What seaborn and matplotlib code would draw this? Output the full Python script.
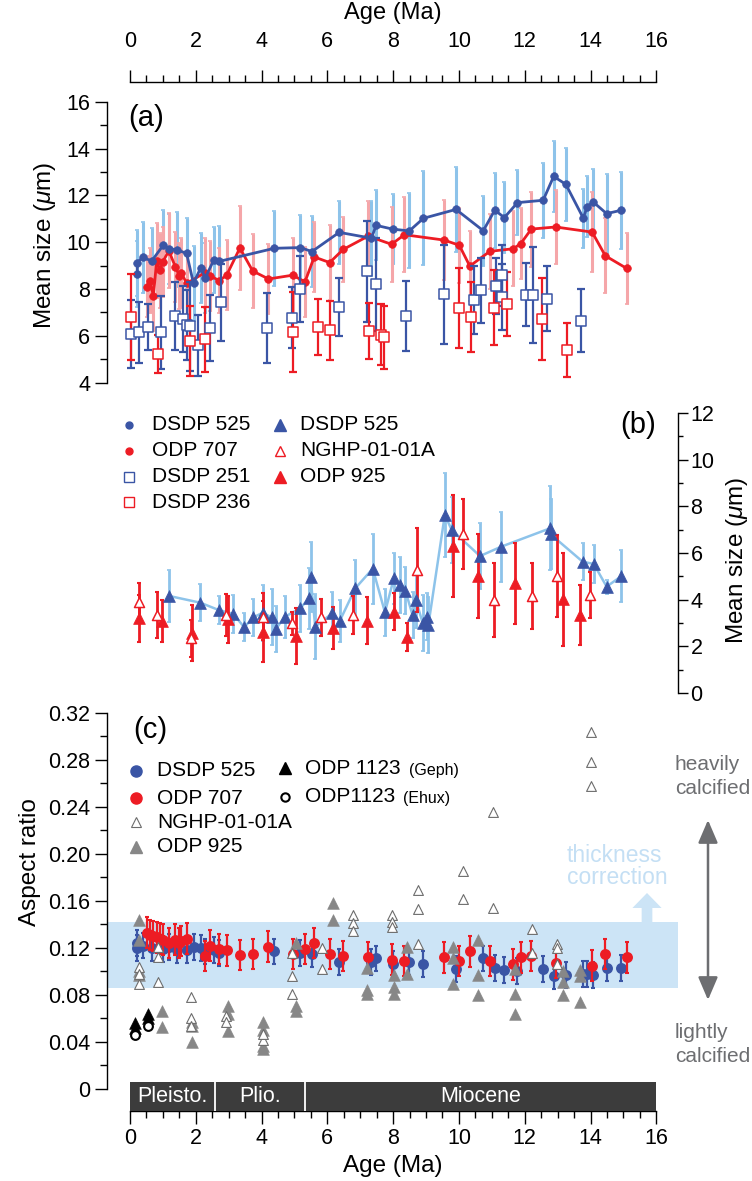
import matplotlib
matplotlib.use('Agg')
import numpy as np
import pandas as pd
import matplotlib.pyplot as plt
import seaborn as sns
from matplotlib.lines import Line2D
from matplotlib.patches import FancyArrowPatch
from matplotlib.ticker import MultipleLocator, FixedLocator, FuncFormatter

# ---------------- data: panel (a) mean size ----------------
a525_age = [0.22, 0.22, 0.38, 0.66, 1.01, 1.20, 1.44, 1.72, 1.93, 2.15,
            2.29, 2.55, 2.71, 4.39, 5.18, 5.53, 6.36, 7.34, 7.48, 7.98,
            8.49, 8.92, 9.91, 10.74, 11.09, 11.38, 11.78, 12.56, 12.88, 13.25,
            13.78, 13.90, 14.08, 14.49, 14.92]
a525_size = [8.64, 9.12, 9.35, 9.20, 9.87, 9.72, 9.67, 9.52, 8.24, 8.91,
             8.48, 9.25, 9.18, 9.74, 9.77, 9.60, 10.42, 10.17, 10.72, 10.56,
             10.48, 11.02, 11.40, 10.49, 11.37, 11.05, 11.69, 11.79, 12.81, 12.47,
             11.03, 11.52, 11.72, 11.22, 11.36]
a525_err = [1.4, 1.4, 1.5, 1.4, 1.5, 1.5, 1.6, 1.5, 1.6, 1.5,
            1.5, 1.4, 1.5, 1.6, 1.4, 1.5, 1.35, 1.6, 1.5, 1.5,
            1.6, 2.0, 1.8, 1.5, 1.6, 1.5, 1.4, 1.6, 1.5, 1.55,
            1.26, 1.3, 1.4, 1.7, 1.65]

a707_age = [0.51, 0.61, 0.71, 0.81, 0.91, 0.99, 1.18, 1.38, 1.50, 1.56,
            1.72, 2.28, 2.43, 2.72, 2.94, 3.34, 3.73, 4.21, 4.94, 5.32,
            5.60, 6.07, 6.48, 7.24, 7.95, 8.34, 9.55, 10.01, 10.33, 10.94,
            11.65, 11.88, 12.20, 12.94, 14.05, 14.45, 15.10]
a707_size = [8.10, 8.36, 7.70, 9.21, 8.81, 9.14, 9.64, 8.94, 8.56, 8.70,
             8.24, 8.70, 8.56, 8.36, 8.60, 9.75, 8.77, 8.43, 8.59, 8.31,
             9.37, 9.13, 9.69, 10.26, 9.91, 10.32, 10.09, 9.87, 8.98, 9.61,
             9.72, 9.94, 10.56, 10.65, 10.43, 9.42, 8.88]
a707_err = [1.3, 1.4, 1.5, 1.6, 1.6, 1.5, 1.6, 1.5, 1.4, 1.5,
            1.3, 1.5, 1.5, 1.4, 1.5, 1.8, 1.6, 1.5, 1.6, 1.5,
            1.5, 1.6, 1.4, 1.5, 1.6, 1.6, 1.7, 1.6, 1.5, 1.6,
            1.6, 1.5, 1.6, 1.6, 1.7, 1.6, 1.5]

a251_age = [0.02, 0.28, 0.56, 0.93, 1.37, 1.62, 1.72, 1.82, 2.08, 2.44,
            2.78, 4.16, 4.93, 5.18, 6.36, 7.20, 7.48, 8.39, 9.54, 10.46,
            10.66, 11.12, 11.30, 11.31, 12.03, 12.26, 12.68, 13.72]
a251_size = [6.08, 6.16, 6.38, 6.15, 6.85, 6.72, 6.46, 6.42, 5.60, 6.34,
             7.43, 6.35, 6.78, 8.01, 7.23, 8.76, 8.20, 6.86, 7.77, 7.53,
             7.94, 8.13, 8.59, 7.65, 7.76, 7.76, 7.59, 6.65]
a251_err = [1.45, 1.3, 1.0, 1.55, 1.45, 1.4, 1.5, 1.9, 1.3, 1.4,
            1.65, 1.5, 1.3, 1.4, 1.25, 2.15, 2.0, 1.5, 2.1, 1.45,
            1.4, 1.2, 1.3, 1.4, 1.35, 2.05, 1.4, 1.35]

a236_age = [0.02, 0.86, 1.82, 2.27, 4.96, 5.71, 6.07, 7.27, 7.63, 7.73,
            10.01, 10.37, 11.08, 11.45, 12.53, 13.28]
a236_size = [6.81, 5.23, 5.77, 5.85, 6.16, 6.38, 6.24, 6.22, 6.05, 5.94,
             7.18, 6.81, 7.20, 7.36, 6.73, 5.38]
a236_err = [1.85, 0.8, 1.5, 1.4, 1.7, 1.2, 1.25, 1.2, 1.3, 1.35,
            1.7, 1.5, 1.6, 1.35, 1.75, 1.15]

# ---------------- data: panel (b) mean size ----------------
b525_age = [1.19, 2.14, 2.69, 3.14, 3.47, 3.75, 4.03, 4.31, 4.43, 4.71,
            5.17, 5.45, 5.49, 5.63, 6.14, 6.38, 6.85, 7.38, 7.75, 8.02,
            8.21, 8.37, 8.59, 8.69, 8.90, 9.04, 9.07, 9.57, 9.78, 10.64,
            11.28, 12.77, 12.79, 13.76, 14.10, 14.49, 14.94]
b525_size = [4.16, 3.87, 3.56, 3.39, 2.82, 3.24, 3.44, 3.24, 2.74, 3.27,
             3.63, 4.06, 4.96, 2.84, 3.41, 3.10, 4.49, 5.33, 3.46, 4.91,
             4.63, 4.39, 3.34, 3.99, 2.99, 3.27, 2.91, 7.63, 6.99, 5.87,
             6.27, 7.06, 6.80, 5.63, 5.53, 4.56, 5.01]
b525_err = [1.1, 0.8, 0.6, 0.8, 0.6, 0.8, 1.2, 1.2, 1.0, 0.9,
            1.0, 1.3, 1.5, 1.4, 0.9, 0.9, 1.2, 1.5, 1.0, 1.1,
            1.2, 1.0, 1.0, 1.2, 1.2, 1.0, 1.2, 1.8, 1.4, 1.4,
            1.5, 1.8, 1.5, 0.8, 0.8, 0.3, 1.1]

b925_age = [0.28, 0.96, 1.87, 2.99, 4.05, 5.05, 6.18, 7.21, 8.02, 8.41,
            9.81, 10.59, 11.70, 13.17, 13.69]
b925_size = [3.20, 3.09, 2.59, 3.16, 2.63, 2.44, 2.77, 3.10, 3.49, 2.39,
             6.30, 5.01, 4.70, 4.01, 3.34]
b925_err = [1.0, 0.9, 1.2, 1.0, 1.3, 1.2, 0.9, 1.0, 0.8, 0.6,
            2.2, 1.8, 1.75, 2.0, 1.3]

bng_age = [0.28, 0.83, 1.84, 2.92, 4.05, 4.91, 5.82, 6.77, 8.74, 10.11,
           11.06, 12.21, 12.99, 13.98]
bng_size = [3.91, 3.34, 2.34, 3.34, 3.27, 2.99, 3.24, 3.34, 5.27, 6.82,
            3.99, 4.16, 5.01, 4.20]
bng_err = [0.8, 1.0, 0.8, 0.9, 1.0, 0.5, 0.8, 0.8, 1.8, 1.5,
           1.6, 1.4, 1.75, 1.0]

# ---------------- data: panel (c) aspect ratio ----------------
c525_ar = [0.124, 0.120, 0.122, 0.120, 0.119, 0.121, 0.118, 0.118, 0.121, 0.120,
           0.117, 0.118, 0.116, 0.117, 0.116, 0.115, 0.108, 0.108, 0.111, 0.106,
           0.108, 0.106, 0.102, 0.111, 0.103, 0.101, 0.100, 0.102, 0.096, 0.097,
           0.098, 0.098, 0.097, 0.103, 0.103]
c707_ar = [0.133, 0.131, 0.130, 0.129, 0.128, 0.127, 0.124, 0.127, 0.124, 0.126,
           0.128, 0.113, 0.122, 0.119, 0.118, 0.114, 0.115, 0.121, 0.115, 0.119,
           0.124, 0.115, 0.113, 0.112, 0.110, 0.109, 0.112, 0.109, 0.117, 0.109,
           0.106, 0.112, 0.113, 0.107, 0.105, 0.115, 0.112]
c525_err = 0.011
c707_err = 0.013

cng_age = [0.28, 0.28, 0.28, 0.86, 0.86, 0.86, 1.84, 1.84, 1.84, 2.92, 2.92,
           4.05, 4.05, 4.91, 4.91, 4.91, 5.83, 5.83, 6.79, 6.79, 6.79,
           7.95, 7.95, 7.95, 8.76, 8.76, 8.76, 10.11, 10.11, 11.04, 11.04,
           12.21, 12.21, 12.97, 12.97, 12.97, 14.00, 14.00, 14.00]
cng_ar = [0.104, 0.098, 0.089, 0.121, 0.112, 0.091, 0.078, 0.060, 0.054, 0.062, 0.057,
          0.042, 0.047, 0.116, 0.096, 0.081, 0.120, 0.102, 0.148, 0.141, 0.134,
          0.148, 0.142, 0.138, 0.169, 0.153, 0.123, 0.185, 0.162, 0.236, 0.154,
          0.136, 0.116, 0.123, 0.120, 0.106, 0.304, 0.278, 0.258]

c925_age = [0.28, 0.28, 0.28, 0.28, 0.96, 0.96, 1.87, 1.87, 1.87, 2.99, 2.99, 2.99,
            4.05, 4.05, 4.05, 4.05, 5.05, 5.05, 5.05, 6.18, 6.18, 7.21, 7.21, 7.21,
            8.02, 8.02, 8.02, 8.41, 8.41, 9.81, 9.81, 9.81, 10.59, 10.59, 10.59,
            11.70, 11.70, 11.70, 13.17, 13.17, 13.17, 13.69, 13.69, 13.69]
c925_ar = [0.144, 0.127, 0.100, 0.097, 0.066, 0.053, 0.057, 0.054, 0.040, 0.071, 0.064, 0.049,
           0.057, 0.050, 0.037, 0.034, 0.124, 0.071, 0.066, 0.158, 0.144, 0.103, 0.084, 0.081,
           0.097, 0.087, 0.081, 0.121, 0.098, 0.121, 0.111, 0.089, 0.127, 0.097, 0.080,
           0.102, 0.081, 0.064, 0.100, 0.091, 0.080, 0.101, 0.096, 0.074]

geph_age = [0.15, 0.15, 0.56, 0.56]
geph_ar = [0.056, 0.052, 0.064, 0.060]
ehux_age = [0.15, 0.56]
ehux_ar = [0.046, 0.054]

band_lo, band_hi = 0.086, 0.142
epochs = ['Pleisto.', 'Plio.', 'Miocene']
epoch_start = [0.0, 2.58, 5.33]
epoch_end = [2.58, 5.33, 16.0]

# ---------------- style ----------------
sns.set_theme(style='ticks')
plt.rcParams['font.family'] = ['Liberation Sans', 'DejaVu Sans']
plt.rcParams['mathtext.fontset'] = 'custom'
plt.rcParams['mathtext.it'] = 'Liberation Sans:italic'
plt.rcParams['mathtext.rm'] = 'Liberation Sans'
plt.rcParams['axes.edgecolor'] = 'black'
plt.rcParams['axes.linewidth'] = 1.0
plt.rcParams['xtick.color'] = 'black'
plt.rcParams['ytick.color'] = 'black'

BLUE = '#3a55a5'
RED = '#ed1c24'
LBLUE = '#8dc3ea'
PINK = '#f5a6a9'
GRAY = '#878787'
OGRAY = '#6d6d6d'
BAND = '#cce4f6'
TXTGRAY = '#6d6e71'
TICK = 15.5
LAB = 17.5
LEG = 15

W, H = 752, 1181
fig = plt.figure(figsize=(W / 100, H / 100), dpi=100)
XL = (-0.70, 16.66)


def frect(l, t, r, b):
    return [l / W, 1 - b / H, (r - l) / W, (b - t) / H]


def P(x, y):
    return (x / W, 1 - y / H)


def mark(x, y, marker, ms, fc, ec, mew=1.0):
    fx, fy = P(x, y)
    fig.add_artist(Line2D([fx], [fy], transform=fig.transFigure, marker=marker,
                          markersize=ms, markerfacecolor=fc, markeredgecolor=ec,
                          markeredgewidth=mew, linestyle='none'))


def txt(x, y, s, size, color='black', ha='left', va='center', rot=0):
    fx, fy = P(x, y)
    fig.text(fx, fy, s, fontsize=size, color=color, ha=ha, va=va, rotation=rot)


# ================= panel (a) =================
ax_a = fig.add_axes(frect(107, 81.8, 678, 394.4))
ax_a.set_facecolor('none')
ax_a.set_xlim(XL)
ax_a.set_ylim(3.5, 16.85)
ax_a.errorbar(a525_age, a525_size, yerr=a525_err, fmt='none', ecolor=LBLUE,
              elinewidth=2.2, capsize=1.2, capthick=1.2, zorder=1)
ax_a.errorbar(a707_age, a707_size, yerr=a707_err, fmt='none', ecolor=PINK,
              elinewidth=2.2, capsize=1.2, capthick=1.2, zorder=1)
sns.lineplot(x=a707_age, y=a707_size, sort=False, estimator=None, color=RED,
             linewidth=2.0, marker='o', markersize=5.5, markeredgecolor=RED,
             markeredgewidth=0.5, ax=ax_a, zorder=3)
sns.lineplot(x=a525_age, y=a525_size, sort=False, estimator=None, color=BLUE,
             linewidth=2.0, marker='o', markersize=5.5, markeredgecolor=BLUE,
             markeredgewidth=0.5, ax=ax_a, zorder=3)
ax_a.errorbar(a251_age, a251_size, yerr=a251_err, fmt='none', ecolor=BLUE,
              elinewidth=1.6, capsize=3, capthick=1.6, zorder=4)
ax_a.errorbar(a236_age, a236_size, yerr=a236_err, fmt='none', ecolor=RED,
              elinewidth=1.6, capsize=3, capthick=1.6, zorder=4)
sns.scatterplot(x=a251_age, y=a251_size, marker='s', s=50, color='white',
                edgecolor=BLUE, linewidth=1.1, ax=ax_a, zorder=5)
sns.scatterplot(x=a236_age, y=a236_size, marker='s', s=50, color='white',
                edgecolor=RED, linewidth=1.1, ax=ax_a, zorder=5)

for s in ['right', 'bottom']:
    ax_a.spines[s].set_visible(False)
ax_a.spines['left'].set_bounds(4, 16)
ax_a.spines['top'].set_bounds(0, 16)
ax_a.xaxis.set_ticks_position('top')
ax_a.set_xticks(range(0, 17, 2))
ax_a.xaxis.set_minor_locator(FixedLocator(np.arange(0, 16.01, 0.5)))
ax_a.yaxis.set_major_locator(MultipleLocator(2))
ax_a.yaxis.set_minor_locator(MultipleLocator(1))
ax_a.tick_params(axis='x', which='major', direction='out', length=9, width=1,
                 top=True, bottom=False, labeltop=True, labelbottom=False,
                 labelsize=TICK, pad=12.5)
ax_a.tick_params(axis='x', which='minor', direction='out', length=4.8, width=1,
                 top=True, bottom=False)
ax_a.tick_params(axis='y', which='major', direction='out', length=9, width=1,
                 labelsize=TICK, pad=3)
ax_a.tick_params(axis='y', which='minor', direction='out', length=4.8, width=1)
ax_a.set_xlabel('')
ax_a.set_ylabel('')

# ================= panel (b) =================
ax_b = fig.add_axes(frect(107, 400, 678, 700))
ax_b.set_facecolor('none')
ax_b.set_xlim(XL)
ax_b.set_ylim(-0.30, 12.56)
ax_b.errorbar(b525_age, b525_size, yerr=b525_err, fmt='none', ecolor=LBLUE,
              elinewidth=2.0, capsize=1.2, capthick=1.2, zorder=1)
sns.lineplot(x=b525_age, y=b525_size, sort=False, estimator=None, color=LBLUE,
             linewidth=1.8, ax=ax_b, zorder=2)
ax_b.errorbar(b925_age, b925_size, yerr=b925_err, fmt='none', ecolor=RED,
              elinewidth=2.0, capsize=1.5, capthick=1.5, zorder=3)
ax_b.errorbar(bng_age, bng_size, yerr=bng_err, fmt='none', ecolor=RED,
              elinewidth=2.0, capsize=1.5, capthick=1.5, zorder=3)
sns.scatterplot(x=b525_age, y=b525_size, marker='^', s=72, color=BLUE,
                edgecolor=BLUE, linewidth=0.5, ax=ax_b, zorder=4)
sns.scatterplot(x=b925_age, y=b925_size, marker='^', s=72, color=RED,
                edgecolor=RED, linewidth=0.5, ax=ax_b, zorder=5)
sns.scatterplot(x=bng_age, y=bng_size, marker='^', s=52, color='white',
                edgecolor=RED, linewidth=1.1, ax=ax_b, zorder=5)
for s in ['left', 'top', 'bottom']:
    ax_b.spines[s].set_visible(False)
ax_b.spines['right'].set_bounds(0, 12)
ax_b.yaxis.set_ticks_position('right')
ax_b.yaxis.set_major_locator(MultipleLocator(2))
ax_b.yaxis.set_minor_locator(MultipleLocator(1))
ax_b.tick_params(axis='x', which='both', bottom=False, top=False,
                 labelbottom=False, labeltop=False)
ax_b.tick_params(axis='y', which='major', direction='out', length=7, width=1,
                 right=True, left=False, labelright=True, labelleft=False,
                 labelsize=TICK, pad=2)
ax_b.tick_params(axis='y', which='minor', direction='out', length=3.8, width=1,
                 right=True, left=False)
ax_b.set_xlabel('')
ax_b.set_ylabel('')

# ================= panel (c) =================
ax_c = fig.add_axes(frect(107, 701, 678, 1111))
ax_c.set_facecolor('none')
ax_c.set_xlim(XL)
ax_c.set_ylim(-0.0187, 0.330)
ax_c.axhspan(band_lo, band_hi, color=BAND, lw=0, zorder=0)

ax_c.errorbar(a525_age, c525_ar, yerr=c525_err, fmt='none', ecolor=BLUE,
              elinewidth=1.6, capsize=1.5, capthick=1.5, zorder=2)
ax_c.errorbar(a707_age, c707_ar, yerr=c707_err, fmt='none', ecolor=RED,
              elinewidth=1.6, capsize=1.5, capthick=1.5, zorder=3)
sns.scatterplot(x=a525_age, y=c525_ar, marker='o', s=62, color=BLUE,
                edgecolor=BLUE, linewidth=0, ax=ax_c, zorder=2.5)
sns.scatterplot(x=a707_age, y=c707_ar, marker='o', s=62, color=RED,
                edgecolor=RED, linewidth=0, ax=ax_c, zorder=3.5)
sns.scatterplot(x=c925_age, y=c925_ar, marker='^', s=72, color=GRAY,
                edgecolor=GRAY, linewidth=0.4, ax=ax_c, zorder=4)
sns.scatterplot(x=cng_age, y=cng_ar, marker='^', s=50, color='white',
                edgecolor=OGRAY, linewidth=0.8, ax=ax_c, zorder=4.5)
sns.scatterplot(x=geph_age, y=geph_ar, marker='^', s=72, color='black',
                edgecolor='black', linewidth=0.4, ax=ax_c, zorder=5)
sns.scatterplot(x=ehux_age, y=ehux_ar, marker='o', s=40, color='white',
                edgecolor='black', linewidth=1.5, ax=ax_c, zorder=5)

bar_lo = -0.0187
bar_hi = 0.006
ax_c.bar(x=epoch_start, height=bar_hi - bar_lo,
         width=np.array(epoch_end) - np.array(epoch_start), bottom=bar_lo,
         align='edge', color='#3c3c3c', linewidth=0, zorder=6)
ax_c.vlines(epoch_start[1:], bar_lo, bar_hi, colors='white', linewidth=1.3, zorder=7)
for name, s0, s1 in zip(epochs, epoch_start, epoch_end):
    ax_c.text((s0 + s1) / 2, (bar_lo + bar_hi) / 2, name, color='white',
              fontsize=15.5, ha='center', va='center', zorder=8)

for s in ['top', 'right']:
    ax_c.spines[s].set_visible(False)
ax_c.spines['left'].set_bounds(0, 0.32)
ax_c.spines['bottom'].set_bounds(0, 16)
ax_c.set_xticks(range(0, 17, 2))
ax_c.xaxis.set_minor_locator(FixedLocator(np.arange(0, 16.01, 0.5)))
ax_c.set_yticks(np.round(np.arange(0, 0.3201, 0.04), 2))
ax_c.yaxis.set_minor_locator(FixedLocator(np.round(np.arange(0, 0.3201, 0.02), 2)))
ax_c.yaxis.set_major_formatter(FuncFormatter(lambda v, p: '0' if abs(v) < 1e-9 else f'{v:.2f}'))
ax_c.tick_params(axis='both', which='major', direction='out', length=9, width=1,
                 labelsize=TICK, pad=3)
ax_c.tick_params(axis='both', which='minor', direction='out', length=4.8, width=1)
ax_c.set_xlabel('')
ax_c.set_ylabel('')

# ================= texts, legends, annotations =================
txt(392.5, 13.5, 'Age (Ma)', 17, ha='center')
txt(392.5, 1166, 'Age (Ma)', LAB, ha='center')
txt(45, 245, 'Mean size ($\\mu$m)', LAB, ha='center', rot=90)
txt(737, 560, 'Mean size ($\\mu$m)', LAB, ha='center', rot=90)
txt(30, 862, 'Aspect ratio', LAB, ha='center', rot=90)
txt(146, 118, '(a)', 21, ha='center')
txt(638, 425, '(b)', 21, ha='center')
txt(150, 730, '(c)', 21, ha='center')

# legend (b)
mark(129, 425, 'o', 5, BLUE, BLUE)
txt(152, 425, 'DSDP 525', LEG)
mark(129, 451, 'o', 5, RED, RED)
txt(152, 451, 'ODP 707', LEG)
mark(129, 477, 's', 6.5, 'white', BLUE, 1.0)
txt(152, 477, 'DSDP 251', LEG)
mark(129, 502, 's', 6.5, 'white', RED, 1.0)
txt(152, 502, 'DSDP 236', LEG)
mark(280, 425, '^', 9, BLUE, BLUE)
txt(300, 425, 'DSDP 525', LEG)
mark(280, 451, '^', 7.5, 'white', RED, 1.0)
txt(300, 451, 'NGHP-01-01A', LEG)
mark(280, 477, '^', 9, RED, RED)
txt(300, 477, 'ODP 925', LEG)

# legend (c)
mark(136, 771, 'o', 8, BLUE, BLUE)
txt(157, 771, 'DSDP 525', LEG)
mark(136, 798, 'o', 8, RED, RED)
txt(157, 798, 'ODP 707', LEG)
mark(136, 822, '^', 7, 'white', OGRAY, 0.8)
txt(157, 822, 'NGHP-01-01A', LEG)
mark(136, 847, '^', 8.5, GRAY, GRAY)
txt(157, 847, 'ODP 925', LEG)
mark(285, 768, '^', 8.5, 'black', 'black')
txt(305, 768, 'ODP 1123', LEG)
txt(409, 770, '(Geph)', 11.5)
mark(285, 797, 'o', 6, 'white', 'black', 1.5)
txt(305, 797, 'ODP1123', LEG)
txt(403, 799, '(Ehux)', 11.5)

# right-hand annotations
txt(675, 765, 'heavily', 15, color=TXTGRAY)
txt(675, 788, 'calcified', 15, color=TXTGRAY)
txt(675, 1033, 'lightly', 15, color=TXTGRAY)
txt(675, 1056, 'calcified', 15, color=TXTGRAY)
fig.add_artist(FancyArrowPatch(P(708, 1000), P(708, 820), transform=fig.transFigure,
                               arrowstyle='<|-|>,head_length=0.7,head_width=0.3',
                               mutation_scale=20, color=TXTGRAY, lw=1.8,
                               shrinkA=0, shrinkB=0))
txt(567, 855, 'thickness', 16.5, color='#c4dff4')
txt(567, 877, 'correction', 16.5, color='#c4dff4')
fig.add_artist(FancyArrowPatch(P(647, 922), P(647, 893), transform=fig.transFigure,
                               arrowstyle='simple,head_length=0.77,head_width=1.5,tail_width=0.55',
                               mutation_scale=14, color=BAND, lw=0,
                               shrinkA=0, shrinkB=0))

fig.savefig('out.png', dpi=100)
